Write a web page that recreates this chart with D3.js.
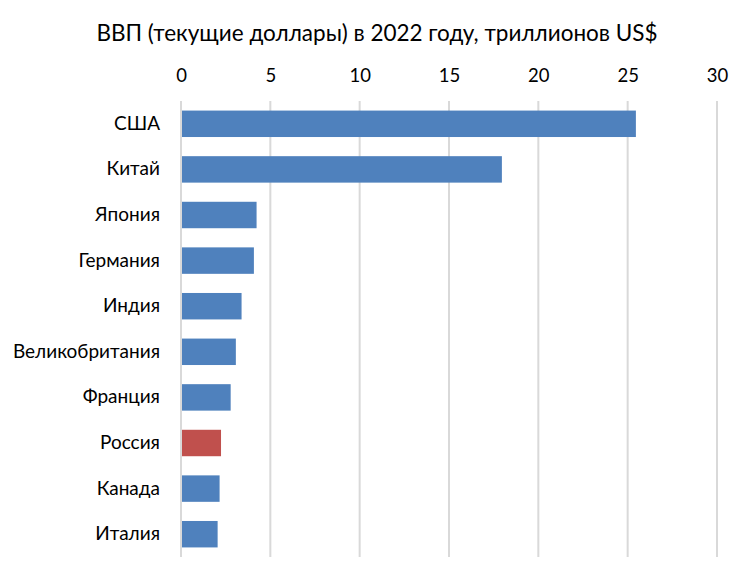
<!DOCTYPE html>
<html>
<head>
<meta charset="utf-8">
<script src="https://cdn.jsdelivr.net/npm/d3@7"></script>
<style>
  body { margin: 0; background: #fff; }
  text { font-family: Lato, "Open Sans", sans-serif; fill: #000; }
</style>
</head>
<body>
<div id="chart"></div>
<script>
// GDP, current US$, 2022, trillions
const countries = ["США", "Китай", "Япония", "Германия", "Индия", "Великобритания", "Франция", "Россия", "Канада", "Италия"];
const gdp = [25.46, 17.96, 4.23, 4.08, 3.39, 3.07, 2.78, 2.24, 2.16, 2.05];
const highlight = ["Россия"];
const xTicks = [0, 5, 10, 15, 20, 25, 30];
const title = "ВВП (текущие доллары) в 2022 году, триллионов US$";

const W = 750, H = 581;
const margin = { top: 101, left: 181, right: 33, bottom: 24 };

const data = countries.map((c, i) => ({ name: c, value: gdp[i] }));

const svg = d3.select("#chart")
    .append("svg")
    .attr("width", W)
    .attr("height", H);

const x = d3.scaleLinear()
    .domain([0, 30])
    .range([margin.left, W - margin.right]);

const y = d3.scaleBand()
    .domain(countries)
    .range([margin.top, H - margin.bottom])
    .paddingInner(0.42)
    .paddingOuter(0.21);

// title
svg.append("text")
    .attr("x", 377)
    .attr("y", 41)
    .attr("text-anchor", "middle")
    .attr("font-size", "22.5px")
    .text(title);

// gridlines
svg.append("g")
    .selectAll("line")
    .data(xTicks)
    .enter()
    .append("line")
    .attr("x1", d => x(d))
    .attr("x2", d => x(d))
    .attr("y1", margin.top)
    .attr("y2", H - margin.bottom)
    .attr("stroke", "#d9d9d9")
    .attr("stroke-width", 2);

// top axis
const xAxis = d3.axisTop(x)
    .tickValues(xTicks)
    .tickSize(0)
    .tickPadding(0)
    .tickFormat(d3.format("d"));

const axis = svg.append("g")
    .attr("transform", "translate(0, 82)")
    .call(xAxis);
axis.select(".domain").remove();
axis.selectAll("text")
    .attr("font-size", "18.5px")
    .attr("font-family", "Lato, sans-serif")
    .attr("fill", "#000");

// bars
svg.append("g")
    .selectAll("rect")
    .data(data)
    .enter()
    .append("rect")
    .attr("x", x(0) + 1)
    .attr("y", d => y(d.name))
    .attr("width", d => x(d.value) - x(0) - 1)
    .attr("height", y.bandwidth())
    .attr("fill", d => highlight.includes(d.name) ? "#c0504d" : "#4f81bd");

// category labels
const yAxis = d3.axisLeft(y)
    .tickSize(0)
    .tickPadding(21);

const yg = svg.append("g")
    .attr("transform", `translate(${margin.left}, 0)`)
    .call(yAxis);
yg.select(".domain").remove();
yg.selectAll("text")
    .attr("font-size", "19px")
    .attr("font-family", "Lato, sans-serif")
    .attr("fill", "#000");
</script>
</body>
</html>
